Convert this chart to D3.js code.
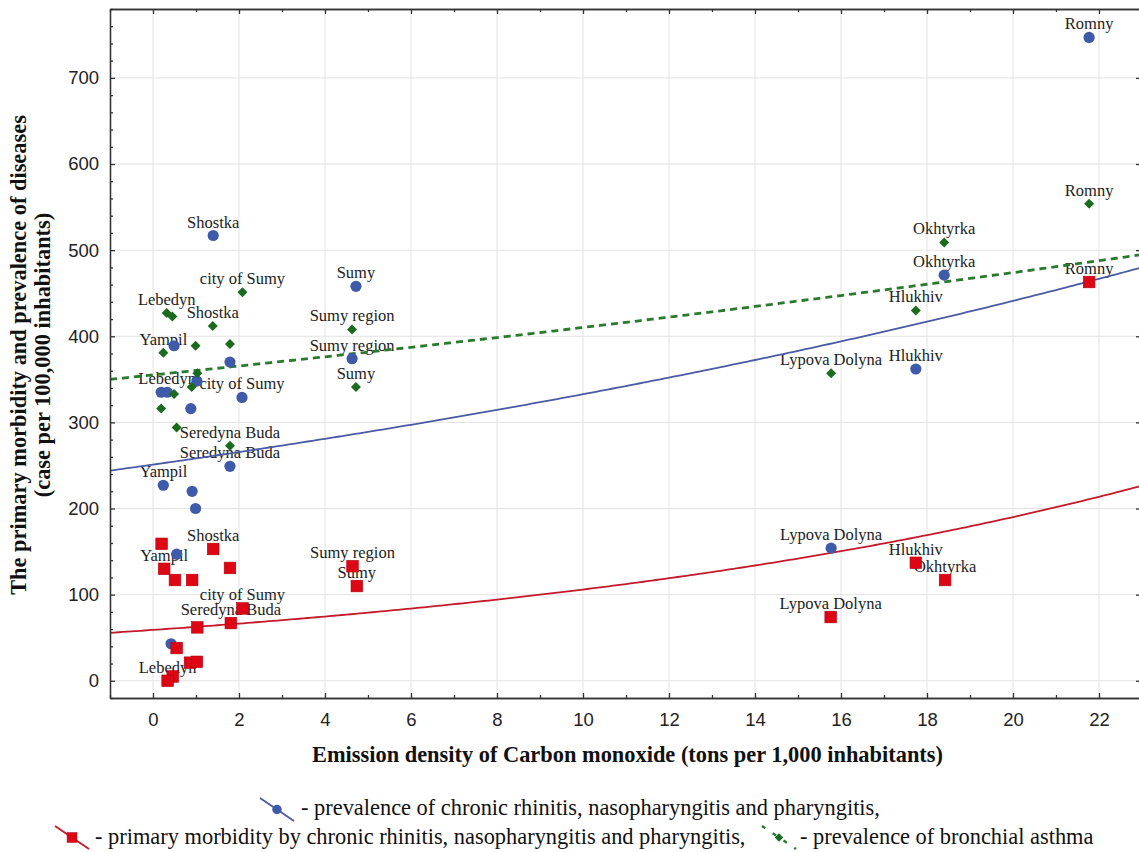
<!DOCTYPE html>
<html>
<head>
<meta charset="utf-8">
<script src="https://cdn.jsdelivr.net/npm/d3@7"></script>
<style>
  body { margin: 0; background: #fff; }
  svg { display: block; }
  .axis path, .axis line { stroke: #333; stroke-width: 1.3; }
  .axis text { font-family: "Liberation Sans", Arial, sans-serif; font-size: 18.5px; fill: #222; }
  .grid line { stroke: #e3e3e3; stroke-width: 1; }
  .ptlabel { font-family: "Liberation Serif", "Times New Roman", serif; font-size: 16.5px; fill: #222; }
  .title { font-family: "Liberation Serif", "Times New Roman", serif; font-size: 22.4px; font-weight: bold; fill: #111; }
  .legend { font-family: "Liberation Serif", "Times New Roman", serif; font-size: 22.4px; fill: #111; }
</style>
</head>
<body>
<div id="chart"></div>
<script>
(function(){

  //prevalence of chronic rhinitis, nasopharyngitis and pharyngitis (blue circles)
  var rhinPrevX = [21.77, 18.40, 17.74, 15.77, 4.72, 4.63, 1.40, 1.79, 2.07, 0.49, 1.79, 1.02, 0.19, 0.33, 0.88, 0.24, 0.91, 0.99, 0.55, 0.42];
  var rhinPrevY = [747, 471, 362, 154, 458, 374, 517, 249, 329, 389, 370, 348, 335, 335, 316, 227, 220, 200, 147, 43];
  var rhinPrevLabels = ["Romny", "Okhtyrka", "Hlukhiv", "Lypova Dolyna", "Sumy", "Sumy region", "Shostka", "Seredyna Buda", "city of Sumy", "", "", "", "", "Lebedyn", "", "Yampil", "", "", "", ""];

  //prevalence of bronchial asthma (green diamonds)
  var asthmaX = [21.77, 18.40, 17.74, 15.77, 4.63, 4.72, 2.08, 1.39, 0.32, 0.45, 0.24, 0.99, 1.79, 1.03, 0.90, 0.49, 0.19, 0.55, 1.79];
  var asthmaY = [554, 509, 430, 357, 408, 341, 451, 412, 427, 423, 381, 389, 391, 357, 341, 333, 316, 294, 273];
  var asthmaLabels = ["Romny", "Okhtyrka", "Hlukhiv", "Lypova Dolyna", "Sumy region", "Sumy", "city of Sumy", "Shostka", "Lebedyn", "", "Yampil", "", "", "", "", "", "", "", "Seredyna Buda"];

  //primary morbidity by chronic rhinitis, nasopharyngitis and pharyngitis (red squares)
  var rhinMorbX = [21.77, 17.74, 18.42, 15.76, 4.64, 4.74, 0.20, 1.40, 0.26, 1.79, 0.51, 0.91, 2.08, 1.81, 1.03, 0.55, 0.86, 1.02, 0.46, 0.34];
  var rhinMorbY = [463, 137, 117, 74, 133, 110, 159, 153, 130, 131, 117, 117, 84, 67, 62, 38, 21, 22, 5, 0];
  var rhinMorbLabels = ["Romny", "Hlukhiv", "Okhtyrka", "Lypova Dolyna", "Sumy region", "Sumy", "", "Shostka", "Yampil", "", "", "", "city of Sumy", "Seredyna Buda", "", "", "", "", "", "Lebedyn"];

  //exponential fits y = a * exp(b * x)
  var fitA = [251, 355.1, 59.05];
  var fitB = [0.02819, 0.01443, 0.05845];

  //axis ticks
  var xTicks = [0, 2, 4, 6, 8, 10, 12, 14, 16, 18, 20, 22];
  var yTicks = [0, 100, 200, 300, 400, 500, 600, 700];

  var width = 1139, height = 852;
  var left = 110, right = 1142, top = 9, bottom = 698;

  var svg = d3.select("#chart").append("svg")
      .attr("width", width)
      .attr("height", height);

  svg.append("rect").attr("width", width).attr("height", height).attr("fill", "#fff");

  var x = d3.scaleLinear().domain([-1, 23]).range([left, right]);
  var y = d3.scaleLinear().domain([-20, 780]).range([bottom, top]);

  svg.append("clipPath").attr("id", "plotclip")
    .append("rect")
      .attr("x", left).attr("y", top)
      .attr("width", right - left).attr("height", bottom - top);

  //gridlines
  var grid = svg.append("g").attr("class", "grid");
  grid.selectAll(".gx").data(xTicks).enter().append("line")
      .attr("x1", function(d){ return x(d); }).attr("x2", function(d){ return x(d); })
      .attr("y1", top).attr("y2", bottom);
  grid.selectAll(".gy").data(yTicks).enter().append("line")
      .attr("y1", function(d){ return y(d); }).attr("y2", function(d){ return y(d); })
      .attr("x1", left).attr("x2", right);

  //series definitions
  var series = [
    { xs: rhinPrevX, ys: rhinPrevY, labels: rhinPrevLabels, color: "#3f5aa9", line: "#4a5ba3", dash: null, shape: "circle", fit: 0 },
    { xs: asthmaX, ys: asthmaY, labels: asthmaLabels, color: "#1b6b1f", line: "#2a7a2d", dash: "7,5", shape: "diamond", fit: 1 },
    { xs: rhinMorbX, ys: rhinMorbY, labels: rhinMorbLabels, color: "#de0614", line: "#c4192b", dash: null, shape: "square", fit: 2 }
  ];

  function pts(s){
    return s.xs.map(function(v, i){ return { x: v, y: s.ys[i], label: s.labels[i] }; });
  }

  //point labels, drawn under lines and markers
  var labelLayer = svg.append("g");
  series.forEach(function(s){
    labelLayer.selectAll(null)
      .data(pts(s).filter(function(d){ return d.label; }))
      .enter().append("text")
        .attr("class", "ptlabel")
        .attr("text-anchor", "middle")
        .attr("x", function(d){ return x(d.x); })
        .attr("y", function(d){ return y(d.y) - 8; })
        .text(function(d){ return d.label; });
  });

  //fitted curves
  var curveX = d3.range(-1, 23.01, 0.1);
  var line = d3.line()
      .x(function(d){ return x(d[0]); })
      .y(function(d){ return y(d[1]); });
  var lines = svg.append("g").attr("clip-path", "url(#plotclip)");
  series.forEach(function(s){
    var a = fitA[s.fit], b = fitB[s.fit];
    lines.append("path")
      .datum(curveX.map(function(v){ return [v, a * Math.exp(b * v)]; }))
      .attr("fill", "none")
      .attr("stroke", s.line)
      .attr("stroke-width", s.dash ? 2.8 : 1.8)
      .attr("stroke-dasharray", s.dash)
      .attr("d", line);
  });

  //markers
  function marker(g, shape, color){
    if (shape == "circle") {
      g.append("circle").attr("r", 5.6).attr("fill", color);
    } else if (shape == "square") {
      g.append("rect").attr("x", -5.8).attr("y", -5.8).attr("width", 11.6).attr("height", 11.6)
        .attr("fill", color).attr("stroke", "#b0000c").attr("stroke-width", 0.6);
    } else {
      g.append("path").attr("d", "M0,-5L5,0L0,5L-5,0Z").attr("fill", color);
    }
  }

  var markLayer = svg.append("g").attr("clip-path", "url(#plotclip)");
  series.forEach(function(s){
    markLayer.selectAll(null)
      .data(pts(s))
      .enter().append("g")
        .attr("transform", function(d){ return "translate(" + x(d.x) + "," + y(d.y) + ")"; })
        .each(function(){ marker(d3.select(this), s.shape, s.color); });
  });

  //axes, ticks point inward
  var xMinor = d3.range(-1, 24, 1).filter(function(d){ return xTicks.indexOf(d) < 0; });
  var yMinor = d3.range(-20, 781, 20).filter(function(d){ return yTicks.indexOf(d) < 0; });

  svg.append("g").attr("class", "axis")
      .attr("transform", "translate(0," + bottom + ")")
      .call(d3.axisBottom(x).tickValues(xTicks).tickSize(-5).tickSizeOuter(0).tickPadding(15));
  svg.append("g").attr("class", "axis")
      .attr("transform", "translate(0," + bottom + ")")
      .call(d3.axisBottom(x).tickValues(xMinor).tickSize(-3).tickSizeOuter(0).tickFormat(""));
  svg.append("g").attr("class", "axis")
      .attr("transform", "translate(0," + top + ")")
      .call(d3.axisTop(x).tickValues(xTicks).tickSize(-5).tickSizeOuter(0).tickFormat(""));
  svg.append("g").attr("class", "axis")
      .attr("transform", "translate(0," + top + ")")
      .call(d3.axisTop(x).tickValues(xMinor).tickSize(-3).tickSizeOuter(0).tickFormat(""));

  svg.append("g").attr("class", "axis")
      .attr("transform", "translate(" + left + ",0)")
      .call(d3.axisLeft(y).tickValues(yTicks).tickSize(-5).tickSizeOuter(0).tickPadding(11));
  svg.append("g").attr("class", "axis")
      .attr("transform", "translate(" + left + ",0)")
      .call(d3.axisLeft(y).tickValues(yMinor).tickSize(-3).tickSizeOuter(0).tickFormat(""));
  svg.append("g").attr("class", "axis")
      .attr("transform", "translate(" + (right - 1) + ",0)")
      .call(d3.axisRight(y).tickValues(yTicks).tickSize(-5).tickSizeOuter(0).tickFormat(""));

  //axis titles
  svg.append("text").attr("class", "title")
      .attr("x", (312 + 943) / 2).attr("y", 762)
      .attr("text-anchor", "middle")
      .text("Emission density of Carbon monoxide (tons per 1,000 inhabitants)");

  var yTitle = svg.append("text").attr("class", "title")
      .attr("transform", "translate(26,355) rotate(-90)")
      .attr("text-anchor", "middle");
  yTitle.append("tspan").attr("x", 0).attr("y", 0).text("The primary morbidity and prevalence of diseases");
  yTitle.append("tspan").attr("x", 0).attr("y", 24).text("(case per 100,000 inhabitants)");

  //legend
  var legendItems = [
    { s: series[0], ix: 260, iy: 798, tx: 301, ty: 815, text: "- prevalence of chronic rhinitis, nasopharyngitis and pharyngitis," },
    { s: series[2], ix: 55, iy: 826, tx: 95, ty: 844, text: "- primary morbidity by chronic rhinitis, nasopharyngitis and pharyngitis," },
    { s: series[1], ix: 762, iy: 826, tx: 800, ty: 844, text: "- prevalence of bronchial asthma" }
  ];
  var legend = svg.append("g");
  legendItems.forEach(function(d){
    var g = legend.append("g").attr("transform", "translate(" + d.ix + "," + d.iy + ")");
    g.append("line")
      .attr("x1", 0).attr("y1", 0).attr("x2", 34).attr("y2", 23)
      .attr("stroke", d.s.line)
      .attr("stroke-width", d.s.dash ? 2.4 : 1.8)
      .attr("stroke-dasharray", d.s.dash ? "4,9" : null);
    var m = g.append("g").attr("transform", "translate(17,11.5) scale(0.85)");
    marker(m, d.s.shape, d.s.color);
    legend.append("text").attr("class", "legend")
      .attr("x", d.tx).attr("y", d.ty)
      .text(d.text);
  });

})();
</script>
</body>
</html>
